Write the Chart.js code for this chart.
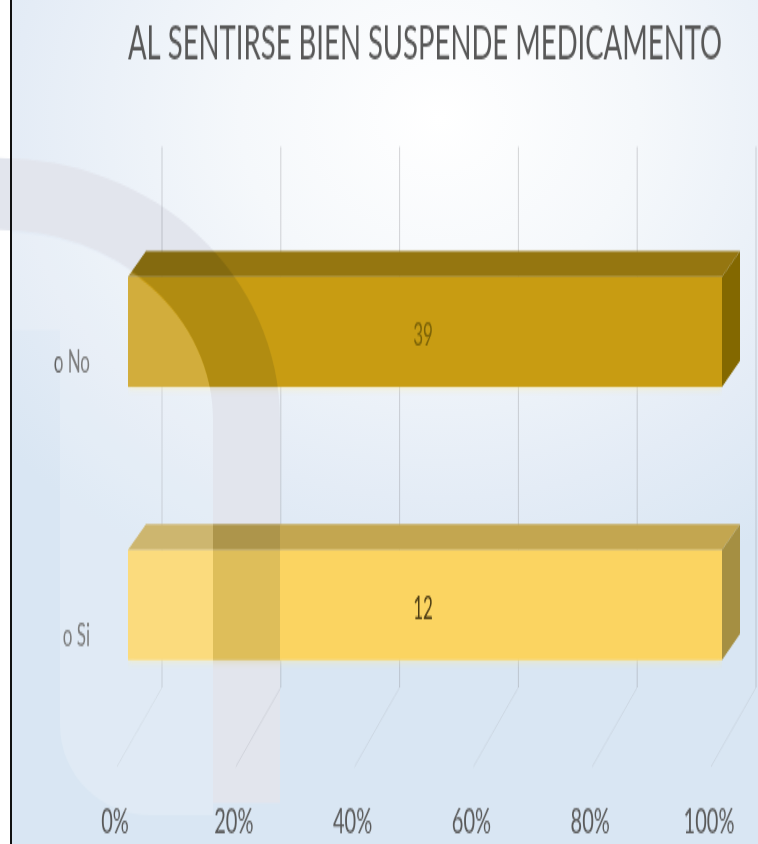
<!DOCTYPE html>
<html lang="es">
<head>
<meta charset="UTF-8">
<title>Al sentirse bien suspende medicamento</title>
<script src="https://cdn.jsdelivr.net/npm/chart.js"></script>
<style>
    html, body {
        margin: 0;
        padding: 0;
    }

    body {
        width: 758px;
        height: 844px;
        overflow: hidden;
        position: relative;
        background: radial-gradient(ellipse 75% 60% at 58% 14%, #ffffff 0%, #f5f8fb 35%, #e4ecf6 75%, #d9e6f3 100%);
    }

    .franja {
        position: absolute;
        left: 0;
        top: 0;
        width: 10px;
        height: 844px;
        background: #ffffff;
    }

    .borde {
        position: absolute;
        left: 10px;
        top: 0;
        width: 2px;
        height: 844px;
        background: #111111;
    }

    /* el original esta estirado en vertical: dibujamos a 469px y estiramos */
    .lienzo {
        position: absolute;
        left: 0;
        top: 0;
        width: 758px;
        height: 469px;
        transform: scaleY(1.7996);
        transform-origin: 0 0;
    }
</style>
</head>
<body>
<div class="franja"></div>
<div class="lienzo"><canvas id="grafico"></canvas></div>
<div class="borde"></div>

<script>
const titulo = 'AL SENTIRSE BIEN SUSPENDE MEDICAMENTO';
const categorias = ['o No', 'o Si'];
const respuestas = [39, 12];
const marcasEje = [0, 20, 40, 60, 80, 100];

// cada categoria tiene una sola serie, asi que en 100% apilado ocupa toda la barra
const totalesCategoria = respuestas.slice();
const porcentajes = respuestas.map((v, i) => 100 * v / totalesCategoria[i]);

const colorFrente = ['#C89C12', '#FBD461'];
const colorSuperior = ['#957610', '#C3A650'];
const colorLateral = ['#836800', '#A58F42'];
const colorEtiqueta = ['#7A6208', '#4E3E14'];

const PROF_X = 18;
const PROF_Y = 14.4;

// rejilla en la pared del fondo y suelo
const paredes = {
    id: 'paredes',
    beforeDatasetsDraw(chart) {
        const { ctx, chartArea, scales: { x } } = chart;
        ctx.save();
        ctx.lineWidth = 1;
        marcasEje.forEach(v => {
            const px = x.getPixelForValue(v);
            ctx.strokeStyle = 'rgba(135,135,140,0.35)';
            ctx.beginPath();
            ctx.moveTo(px + 34, chartArea.top - 27);
            ctx.lineTo(px + 34, chartArea.bottom - 30);
            ctx.stroke();
            ctx.strokeStyle = 'rgba(150,150,155,0.18)';
            ctx.beginPath();
            ctx.moveTo(px + 34, chartArea.bottom - 30);
            ctx.lineTo(px - 11, chartArea.bottom + 14);
            ctx.stroke();
        });
        ctx.restore();
    },
    beforeDatasetDraw(chart) {
        chart.ctx.save();
        chart.ctx.shadowColor = 'rgba(255,236,150,0.9)';
        chart.ctx.shadowBlur = 5;
    },
    afterDatasetDraw(chart) {
        chart.ctx.restore();
    }
};

// caras superior y lateral de las barras, y etiquetas de valor
const barras3d = {
    id: 'barras3d',
    afterDatasetsDraw(chart) {
        const ctx = chart.ctx;
        chart.data.datasets.forEach((ds, di) => {
            chart.getDatasetMeta(di).data.forEach((bar, i) => {
                if (ds.data[i] == null) return;
                const { x, y, base, height } = bar.getProps(['x', 'y', 'base', 'height'], true);
                const arriba = y - height / 2;
                const abajo = y + height / 2;

                ctx.save();
                ctx.fillStyle = colorSuperior[di];
                ctx.beginPath();
                ctx.moveTo(base, arriba);
                ctx.lineTo(base + PROF_X, arriba - PROF_Y);
                ctx.lineTo(x + PROF_X, arriba - PROF_Y);
                ctx.lineTo(x, arriba);
                ctx.closePath();
                ctx.fill();

                ctx.fillStyle = colorLateral[di];
                ctx.beginPath();
                ctx.moveTo(x, arriba);
                ctx.lineTo(x + PROF_X, arriba - PROF_Y);
                ctx.lineTo(x + PROF_X, abajo - PROF_Y);
                ctx.lineTo(x, abajo);
                ctx.closePath();
                ctx.fill();

                ctx.fillStyle = colorEtiqueta[di];
                ctx.font = '17px Lato, "Open Sans", sans-serif';
                ctx.textAlign = 'center';
                ctx.textBaseline = 'middle';
                ctx.fillText(String(respuestas[i]), (base + x) / 2 - 2, y + 2);
                ctx.restore();
            });
        });
    }
};

// marca de agua del documento (en pixeles de la imagen final)
const marcaAgua = {
    id: 'marcaAgua',
    afterDraw(chart) {
        const ctx = chart.ctx;
        ctx.save();
        ctx.scale(1, chart.height / 844);

        ctx.fillStyle = 'rgba(255,255,255,0.18)';
        ctx.beginPath();
        ctx.moveTo(0, 232);
        ctx.ellipse(0, 420, 213, 188, 0, -Math.PI / 2, 0);
        ctx.lineTo(213, 815);
        ctx.lineTo(150, 815);
        ctx.arcTo(60, 815, 60, 725, 90);
        ctx.lineTo(60, 330);
        ctx.lineTo(0, 330);
        ctx.closePath();
        ctx.fill();

        ctx.globalCompositeOperation = 'multiply';
        ctx.fillStyle = 'rgb(226,229,237)';
        ctx.beginPath();
        ctx.moveTo(0, 158);
        ctx.ellipse(0, 420, 280, 262, 0, -Math.PI / 2, 0);
        ctx.lineTo(280, 803);
        ctx.lineTo(213, 803);
        ctx.lineTo(213, 420);
        ctx.ellipse(0, 420, 213, 190, 0, 0, -Math.PI / 2, true);
        ctx.closePath();
        ctx.fill();
        ctx.restore();
    }
};

new Chart(document.getElementById('grafico'), {
    type: 'bar',
    data: {
        labels: categorias,
        datasets: categorias.map((c, i) => ({
            label: c,
            data: categorias.map((_, j) => (j === i ? porcentajes[i] : null)),
            backgroundColor: colorFrente[i],
            borderWidth: 0,
            categoryPercentage: 1,
            barPercentage: 0.402
        }))
    },
    options: {
        indexAxis: 'y',
        responsive: true,
        maintainAspectRatio: false,
        animation: false,
        layout: { padding: { left: 0, right: 36, top: 0, bottom: 0 } },
        plugins: {
            legend: { display: false },
            tooltip: { enabled: false },
            title: {
                display: true,
                text: titulo,
                fullSize: false,
                color: '#585858',
                font: { family: 'Lato, "Open Sans", sans-serif', size: 27.5, weight: 'normal' },
                padding: { top: 8, bottom: 67.5 }
            }
        },
        scales: {
            x: {
                stacked: true,
                min: 0,
                max: 100,
                grid: { display: false },
                border: { display: false },
                afterBuildTicks: s => { s.ticks = marcasEje.map(v => ({ value: v })); },
                ticks: {
                    callback: v => v + '%',
                    color: '#595959',
                    font: { family: 'Lato, "Open Sans", sans-serif', size: 20 },
                    padding: 25,
                    labelOffset: -13,
                    maxRotation: 0,
                    autoSkip: false
                },
                afterFit: s => {
                    s.height = 57;
                    s.paddingLeft = 0;
                    s.paddingRight = 0;
                }
            },
            y: {
                stacked: true,
                grid: { display: false },
                border: { display: false },
                ticks: {
                    color: '#5f5f5f',
                    font: { family: 'Lato, "Open Sans", sans-serif', size: 17 },
                    padding: 30,
                    labelOffset: 17
                },
                afterFit: s => { s.width = 128; }
            }
        }
    },
    plugins: [paredes, barras3d, marcaAgua]
});
</script>
</body>
</html>
